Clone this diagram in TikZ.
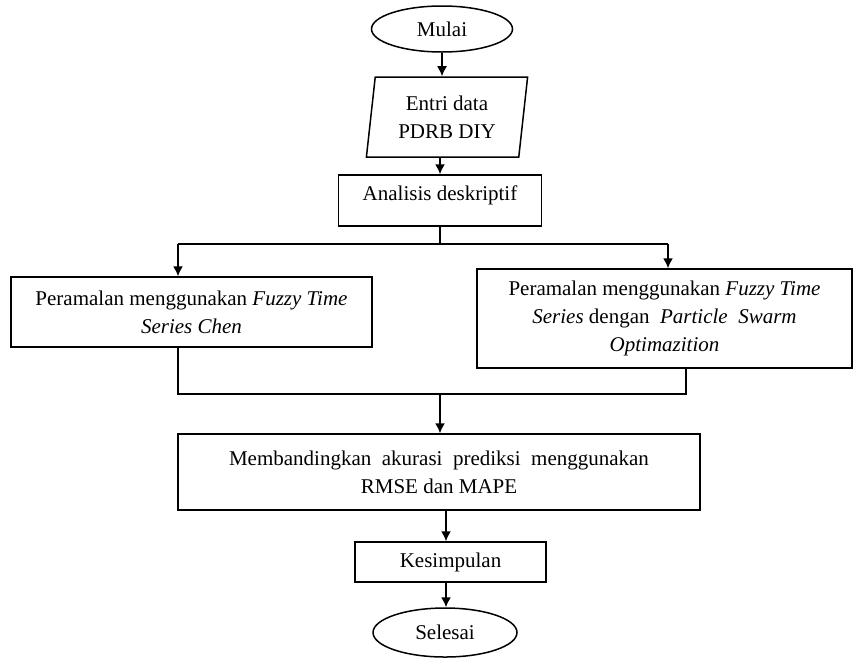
\documentclass[tikz,border=0pt]{standalone}
\usepackage{fontspec}
\setmainfont{Liberation Serif}
\usetikzlibrary{shapes.geometric,arrows.meta}

\begin{document}
\begin{tikzpicture}[x=0.5pt,y=-0.5pt]
    \pgfmathsetmacro{\lw}{0.75}	%line width in pt

    \tikzset{
        terminal/.style={draw, ellipse, line width=\lw pt, inner sep=0pt, font=\fontsize{10.5}{14}\selectfont},
        proses/.style={draw, rectangle, line width=\lw pt, inner sep=0pt, align=center, font=\fontsize{10.5}{14}\selectfont},
        masukan/.style={draw, trapezium, trapezium stretches=true, trapezium left angle=82, trapezium right angle=98, line width=\lw pt, inner sep=0pt, align=center, font=\fontsize{10.5}{14}\selectfont},
        alur/.style={line width=\lw pt},
        panah/.style={line width=\lw pt, -{Latex[length=5pt,width=5pt]}}
    };

    \useasboundingbox (0,0) rectangle (854,659);

    \node[terminal, minimum width=70.5pt, minimum height=23pt] (mulai) at (442,29) {Mulai};
    \node[masukan, minimum width=81pt, minimum height=40pt] (entri) at (447,117) {Entri data\\PDRB DIY};
    \node[proses, minimum width=101.5pt, minimum height=25.5pt, text depth=7pt] (analisis) at (440,200.5) {Analisis deskriptif};
    \node[proses, minimum width=180.5pt, minimum height=35pt] (kiri) at (191.5,312) {Peramalan menggunakan \textit{Fuzzy Time}\\\textit{Series Chen}};
    \node[proses, minimum width=187.5pt, minimum height=49.5pt] (kanan) at (664.5,318.5) {Peramalan menggunakan \textit{Fuzzy Time}\\\textit{Series} dengan \ \textit{Particle \ Swarm}\\\textit{Optimazition}};
    \node[proses, minimum width=261pt, minimum height=38pt] (banding) at (439,472) {Membandingkan \ akurasi \ prediksi \ menggunakan\\RMSE dan MAPE};
    \node[proses, minimum width=95.5pt, minimum height=20pt] (simpul) at (450.5,562) {Kesimpulan};
    \node[terminal, minimum width=72pt, minimum height=24.5pt] (selesai) at (445,632.5) {Selesai};

    % cabang dan gabung
    \coordinate (cabang) at (440,244);
    \coordinate (cabangKiri) at (178,244);
    \coordinate (cabangKanan) at (668,244);
    \coordinate (gabung) at (440,394);
    \coordinate (gabungKiri) at (178,394);
    \coordinate (gabungKanan) at (686,394);

    \draw[panah] (mulai.south -| 442,0) -- (entri.north -| 442,0);
    \draw[panah] (entri.south -| 440,0) -- (analisis.north -| 440,0);
    \draw[alur] (analisis.south -| cabang) -- (cabang);
    \draw[alur] (cabangKiri) -- (cabangKanan);
    \draw[panah] (cabangKiri) -- (kiri.north -| cabangKiri);
    \draw[panah] (cabangKanan) -- (kanan.north -| cabangKanan);
    \draw[alur] (kiri.south -| gabungKiri) -- (gabungKiri) -- (gabungKanan) -- (kanan.south -| gabungKanan);
    \draw[panah] (gabung) -- (banding.north -| gabung);
    \draw[panah] (banding.south -| 446,0) -- (simpul.north -| 446,0);
    \draw[panah] (simpul.south -| 446,0) -- (selesai.north -| 446,0);
\end{tikzpicture}
\end{document}
